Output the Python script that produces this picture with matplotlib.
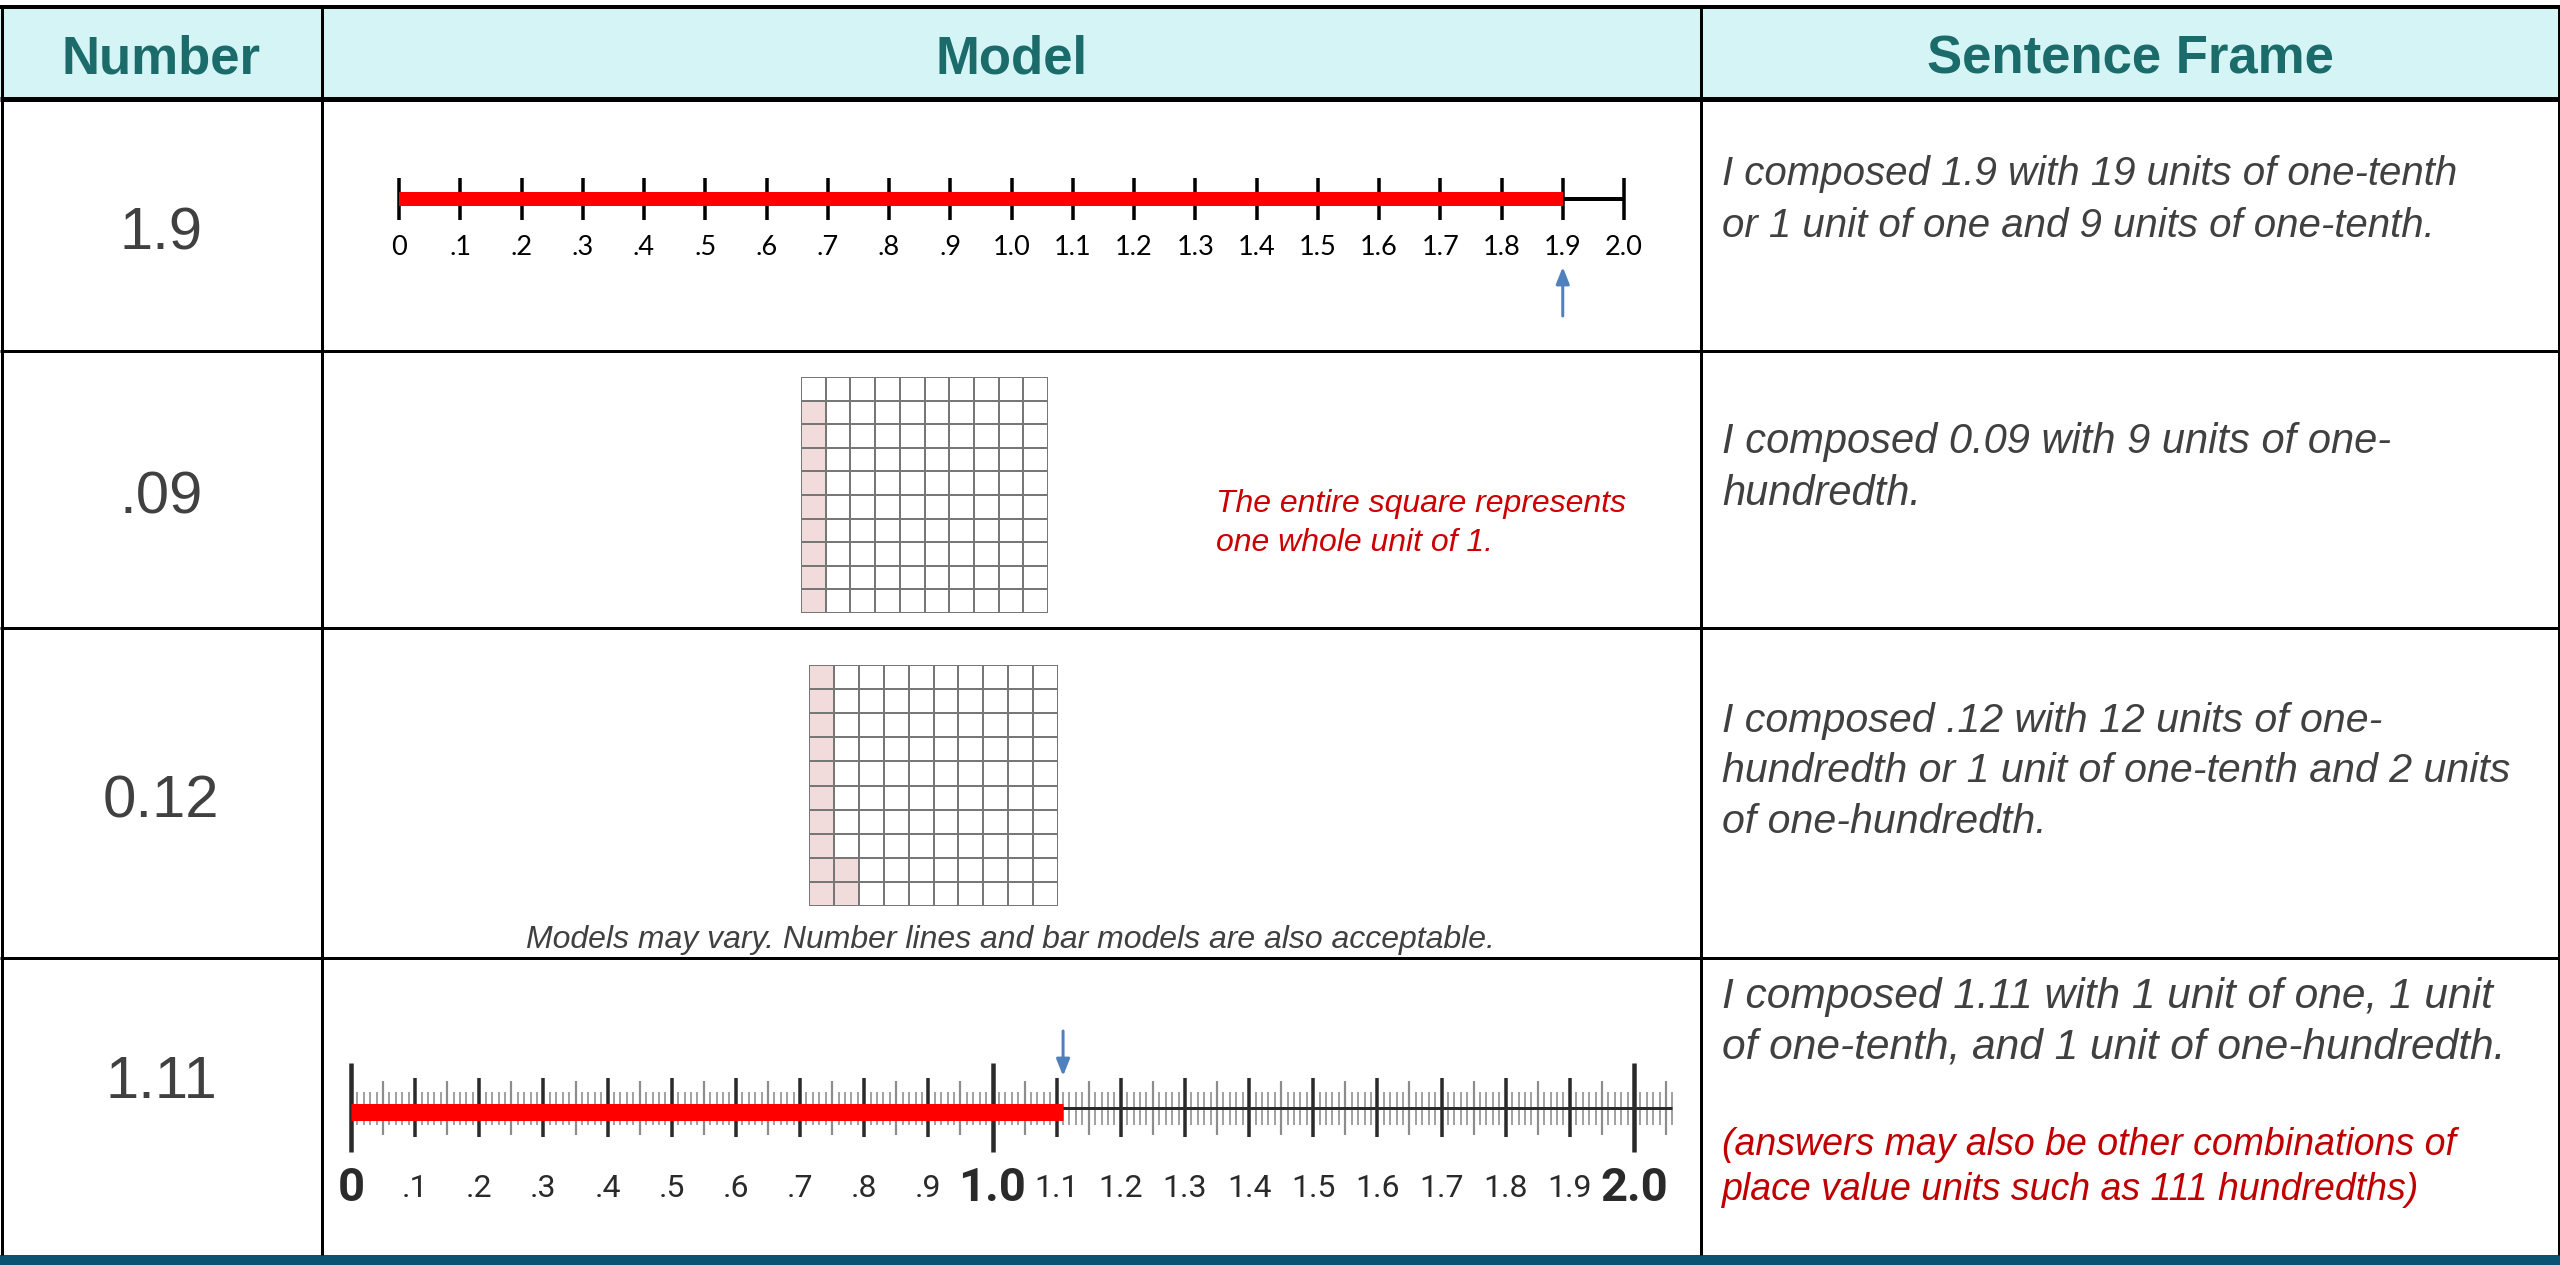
import numpy as np
import matplotlib
matplotlib.use("Agg")
import matplotlib.pyplot as plt
from matplotlib.colors import ListedColormap

W, H = 2560, 1265
PX = 72 / 100  # points per pixel at dpi 100

# ---------------- data ----------------
headers = ["Number", "Model", "Sentence Frame"]
numbers = ["1.9", ".09", "0.12", "1.11"]
sentences = [
    ["I composed 1.9 with 19 units of one-tenth",
     "or 1 unit of one and 9 units of one-tenth."],
    ["I composed 0.09 with 9 units of one-",
     "hundredth."],
    ["I composed .12 with 12 units of one-",
     "hundredth or 1 unit of one-tenth and 2 units",
     "of one-hundredth."],
    ["I composed 1.11 with 1 unit of one, 1 unit",
     "of one-tenth, and 1 unit of one-hundredth."],
]
note_row4 = ["(answers may also be other combinations of",
             "place value units such as 111 hundredths)"]
note_row2 = ["The entire square represents", "one whole unit of 1."]
note_row3 = "Models may vary. Number lines and bar models are also acceptable."

line1_value = 1.9
line2_value = 1.11
line_ticks = [0.0, 0.1, 0.2, 0.3, 0.4, 0.5, 0.6, 0.7, 0.8, 0.9, 1.0,
              1.1, 1.2, 1.3, 1.4, 1.5, 1.6, 1.7, 1.8, 1.9, 2.0]
line_labels = ["0", ".1", ".2", ".3", ".4", ".5", ".6", ".7", ".8", ".9", "1.0",
               "1.1", "1.2", "1.3", "1.4", "1.5", "1.6", "1.7", "1.8", "1.9", "2.0"]
line2_major = [0.0, 1.0, 2.0]
grid_hundredths = [9, 12]

# ---------------- layout ----------------
col_edges = [0, 322, 1701, 2560]
row_edges = [7, 99, 351, 628, 958, 1255]

GRAY = "#404040"
RED = "#c00000"
TEAL = "#1b6b6b"
HEADER_BG = "#d4f4f5"

fig = plt.figure(figsize=(W / 100, H / 100), dpi=100)
fig.patch.set_facecolor("white")

tab = fig.add_axes([0, 0, 1, 1])
tab.set_xlim(0, W)
tab.set_ylim(H, 0)
tab.set_axis_off()


def px_axes(x0, y0, x1, y1):
    ax = fig.add_axes([x0 / W, 1 - y1 / H, (x1 - x0) / W, (y1 - y0) / H])
    ax.set_axis_off()
    ax.patch.set_alpha(0)
    return ax


# header background
tab.add_patch(plt.Rectangle((0, row_edges[0]), W, row_edges[1] - row_edges[0],
                            facecolor=HEADER_BG, edgecolor="none", zorder=0))
# bottom teal bar
tab.add_patch(plt.Rectangle((0, row_edges[-1]), W, H - row_edges[-1],
                            facecolor="#0b5373", edgecolor="none", zorder=3))

# lines
tab.hlines(row_edges[0], 0, W, color="black", lw=4 * PX, zorder=4)
tab.hlines(row_edges[1], 0, W, color="black", lw=5 * PX, zorder=4)
tab.hlines(row_edges[2:-1], 0, W, color="black", lw=3 * PX, zorder=4)
tab.vlines(col_edges[1:-1], row_edges[0], row_edges[-1], color="black", lw=3 * PX, zorder=4)
tab.vlines([1.5, W - 1.5], row_edges[0], row_edges[-1], color="black", lw=3 * PX, zorder=4)

# header texts
for i, h in enumerate(headers):
    xc = (col_edges[i] + col_edges[i + 1]) / 2
    tab.text(xc, 73, h, ha="center", va="baseline", fontsize=38, fontweight="bold",
             color=TEAL, family="Liberation Sans")

# number column
num_baselines = [249, 513, 817, 1098]
for n, yb in zip(numbers, num_baselines):
    tab.text(161, yb, n, ha="center", va="baseline", fontsize=43, color=GRAY,
             family="Liberation Sans")

# sentence column
sent_baselines = [[185, 237], [453, 505], [732, 782, 833], [1008, 1058]]
sent_sizes = [29, 30, 29.6, 30.6]
for lines, ybs, fs in zip(sentences, sent_baselines, sent_sizes):
    for s, yb in zip(lines, ybs):
        tab.text(1722, yb, s, ha="left", va="baseline", fontsize=fs, style="italic",
                 color=GRAY, family="Liberation Sans")
for s, yb in zip(note_row4, [1155, 1200]):
    tab.text(1722, yb, s, ha="left", va="baseline", fontsize=27, style="italic",
             color=RED, family="Liberation Sans")

# row-2 note
for s, yb in zip(note_row2, [512, 551]):
    tab.text(1216, yb, s, ha="left", va="baseline", fontsize=23, style="italic",
             color="#cc0000", family="Liberation Sans")
# row-3 note
tab.text(1010, 948, note_row3, ha="center", va="baseline", fontsize=23, style="italic",
         color=GRAY, family="Liberation Sans")

# ---------------- number line 1 ----------------
ax1 = px_axes(399, 150, 1624, 330)
ax1.set_xlim(0, 2)
ax1.set_ylim(330, 150)
ax1.hlines(199, line1_value, line_ticks[-1], color="black", lw=4 * PX, zorder=2, clip_on=False)
ax1.vlines(line_ticks, 178, 220, color="black", lw=3.5 * PX, zorder=3, clip_on=False)
ax1.hlines(199, 0, line1_value, color="#ff0000", lw=14 * PX, zorder=4, capstyle="butt",
           clip_on=False)
for t, lab in zip(line_ticks, line_labels):
    ax1.text(t, 255, lab, ha="center", va="baseline", fontsize=19.5, color="black",
             family="Lato", clip_on=False)
ax1.annotate("", xy=(line1_value, 267), xytext=(line1_value, 316),
             arrowprops=dict(arrowstyle="-|>,head_length=1.0,head_width=0.4",
                             color="#4f81bd", lw=3 * PX, shrinkA=0, shrinkB=0))

# ---------------- number line 2 ----------------
ax2 = px_axes(351, 1015, 1634, 1215)
ax2.set_xlim(0, 2)
ax2.set_ylim(1215, 1015)
ext = 2.06
hund = np.round(np.arange(0, ext + 1e-9, 0.01), 2)
tenth_set = set(np.round(np.arange(0, ext, 0.1), 2))
half_set = set(np.round(np.arange(0.05, ext, 0.1), 2))
h_small = [v for v in hund if v not in tenth_set and v not in half_set]
ax2.vlines(h_small, 1092, 1125, color="#8c8c8c", lw=1.6 * PX, zorder=2, clip_on=False)
ax2.vlines(sorted(half_set), 1081, 1135, color="#8c8c8c", lw=2.2 * PX, zorder=2, clip_on=False)
ax2.hlines(1108, 0, ext, color="#2a2a2a", lw=3 * PX, zorder=2, clip_on=False)
minor_tenths = [t for t in line_ticks if t not in line2_major]
ax2.vlines(minor_tenths, 1078, 1137, color="#2a2a2a", lw=3.5 * PX, zorder=3, clip_on=False)
ax2.vlines(line2_major, 1063, 1152, color="#2a2a2a", lw=4.5 * PX, zorder=3, clip_on=False)
ax2.hlines(1112, 0, line2_value, color="#ff0000", lw=17 * PX, zorder=4, capstyle="butt",
           clip_on=False)
for t, lab in zip(line_ticks, line_labels):
    if t in line2_major:
        ax2.text(t, 1201, lab, ha="center", va="baseline", fontsize=34, fontweight="bold",
                 color="#2a2a2a", family="Roboto", clip_on=False)
    else:
        ax2.text(t, 1197, lab, ha="center", va="baseline", fontsize=23,
                 color="#2a2a2a", family="Roboto", clip_on=False)
ax2.annotate("", xy=(line2_value, 1076), xytext=(line2_value, 1031),
             arrowprops=dict(arrowstyle="-|>,head_length=1.0,head_width=0.4",
                             color="#4f81bd", lw=3 * PX, shrinkA=0, shrinkB=0))

# ---------------- hundred grids ----------------
grid_rects = [(801, 377, 1048, 613), (809, 665, 1058, 906)]
cmap = ListedColormap(["white", "#f2dcdb"])
for n, (x0, y0, x1, y1) in zip(grid_hundredths, grid_rects):
    ax = px_axes(x0, y0, x1, y1)
    filled = np.zeros((10, 10))
    for k in range(n):
        filled[9 - k % 10, k // 10] = 1
    ax.pcolormesh(np.arange(11), np.arange(11), filled, cmap=cmap, vmin=0, vmax=1,
                  edgecolors="#777777", linewidth=1.6 * PX)
    ax.set_xlim(0, 10)
    ax.set_ylim(10, 0)

fig.savefig("out.png", dpi=100, facecolor="white")
